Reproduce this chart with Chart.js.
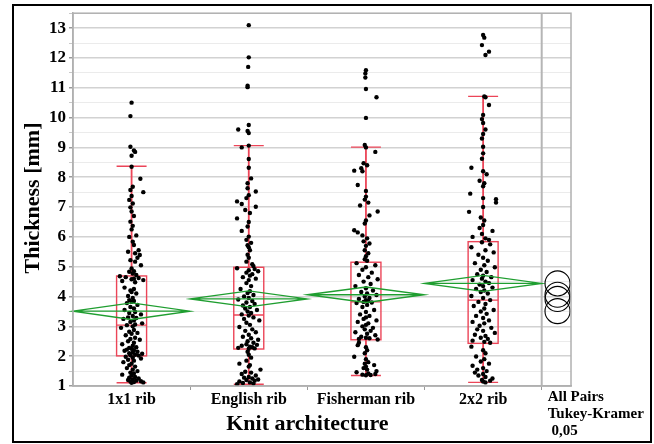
<!DOCTYPE html>
<html><head><meta charset="utf-8">
<script src="https://cdn.jsdelivr.net/npm/chart.js@4/dist/chart.umd.min.js"></script>
<style>html,body{margin:0;padding:0;background:#fff;}canvas{display:block;}</style>
</head><body>
<canvas id="c" width="654" height="444"></canvas>
<script>
// ---------- data ----------
const categories = ['1x1 rib', 'English rib', 'Fisherman rib', '2x2 rib'];
const yTicks = [1,2,3,4,5,6,7,8,9,10,11,12,13];

// observations: [thickness mm, jitter]
const rib1x1 = [
[10.50,0],[10.05,-0.01],[9.02,-0.01],[8.90,0.02],[8.85,0.03],[8.72,0],[8.35,0],[7.95,0.075],[7.50,0.10],[7.68,0.01],[7.57,-0.01],[7.37,0],[7.24,-0.02],[7.12,0.01],[6.99,-0.01],[6.85,0],[6.70,0.02],[6.51,-0.01],[6.37,0.01],[6.25,0],[6.05,0.04],[6.00,-0.02],[5.84,0.01],[5.73,0.02],[5.55,0.06],[5.50,-0.03],[5.45,0.03],[5.39,0.07],[5.30,0.05],[5.22,-0.01],[5.17,0.03],[5.05,0.08],[4.94,0],[4.85,0.02],[4.83,-0.02],[4.77,0.01],[4.72,0.04],
[4.68,-0.10],[4.65,-0.05],[4.62,0.06],[4.60,0.02],[4.58,0.00],[4.55,0.10],[4.52,-0.08],[4.48,0.03],[4.30,-0.06],[4.25,0.02],[4.20,-0.01],[4.15,0.00],[4.10,0.04],[4.02,-0.03],[3.95,0.01],[3.88,-0.02],[3.85,0.02],[3.82,0.00],[3.78,-0.04],[3.72,0.05],[3.65,-0.01],[3.60,0.02],[3.55,-0.06],[3.48,0.03],[3.45,-0.02],[3.40,0.08],[3.35,0.01],[3.30,-0.03],[3.28,0.04],[3.25,-0.07],[3.20,0.02],[3.15,-0.01],[3.10,0.09],[3.06,0.03],[3.04,-0.04],[3.00,0.01],[2.95,-0.09],[2.88,0.02],[2.82,-0.02],[2.78,0.05],[2.75,0.00],[2.70,-0.05],[2.62,0.03],[2.58,-0.01],[2.55,0.07],[2.50,-0.03],[2.45,0.02],[2.40,-0.08],[2.35,0.01],[2.30,0.04],[2.28,-0.02],[2.25,0.00],[2.22,-0.04],[2.20,0.02],[2.18,-0.06],[2.15,0.05],[2.12,0.01],[2.10,-0.02],[2.08,0.09],[2.05,0.03],[2.03,-0.01],[2.02,0.06],
[1.98,-0.05],[1.95,0.01],[1.92,0.08],[1.88,-0.03],[1.85,0.02],[1.80,-0.07],[1.75,0.00],[1.70,-0.02],[1.65,0.03],[1.60,-0.04],[1.55,0.01],[1.50,0.05],[1.45,-0.01],[1.42,0.02],[1.38,-0.08],[1.35,0.00],[1.30,0.03],[1.28,-0.02],[1.25,0.06],[1.22,0.01],[1.20,-0.03],[1.18,0.04],[1.16,0.08],[1.15,-0.01],[1.13,0.02],[1.12,0.10],[1.11,0.00]
];
const ribEnglish = [
[13.10,0],[12.02,0],[11.70,-0.005],[11.07,-0.01],[11.02,-0.01],[9.75,0],[9.60,-0.09],[9.55,-0.01],[9.48,0],[9.06,0],[9.00,-0.06],[8.61,0],[8.32,0],[7.96,0.02],[7.80,-0.01],[7.63,-0.01],[7.52,0.06],[7.40,0],[7.30,-0.02],[7.19,-0.10],[7.10,-0.06],[7.01,0.06],[6.90,-0.03],[6.80,0.01],[6.62,-0.10],[6.50,0],[6.35,-0.01],[6.20,-0.06],[6.01,0],[5.90,-0.02],[5.80,0.02],[5.72,-0.01],[5.65,0],[5.55,0.01],[5.40,-0.01],[5.30,0],[5.17,-0.02],[5.08,0.03],[5.02,0.04],
[4.95,-0.10],[4.92,0.05],[4.88,0.00],[4.85,0.08],[4.80,-0.02],[4.75,0.03],[4.70,0.01],[4.65,-0.05],[4.60,0.06],[4.55,0.00],[4.45,-0.02],[4.35,0.02],[4.25,-0.07],[4.18,0.01],[4.12,-0.01],[4.05,0.04],[4.00,-0.04],[3.95,0.00],[3.90,-0.09],[3.85,0.03],[3.80,-0.02],[3.75,0.05],[3.70,-0.05],[3.65,0.01],[3.60,-0.03],[3.55,0.07],[3.50,-0.01],[3.45,0.02],[3.40,-0.06],[3.36,0.00],[3.30,0.04],[3.25,-0.04],[3.20,0.09],[3.12,-0.02],[3.05,0.01],[2.98,-0.08],[2.90,0.03],[2.85,-0.03],[2.80,0.06],[2.72,0.00],[2.65,-0.05],[2.60,0.02],[2.55,0.08],[2.50,-0.01],[2.45,0.04],[2.40,-0.02],[2.38,0.07],[2.35,-0.06],[2.32,0.01],[2.30,0.03],[2.28,-0.09],[2.26,0.05],[2.25,0.00],
[2.15,-0.01],[2.05,0.00],[1.95,0.02],[1.85,-0.02],[1.75,-0.08],[1.70,0.01],[1.65,0.00],[1.55,0.10],[1.48,-0.03],[1.45,0.02],[1.40,-0.06],[1.35,0.06],[1.30,0.00],[1.28,-0.04],[1.25,0.03],[1.22,0.08],[1.20,-0.02],[1.18,0.05],[1.15,-0.08],[1.12,0.01],[1.10,-0.05],[1.08,0.04],[1.06,-0.10]
];
const ribFisherman = [
[11.59,0],[11.48,-0.005],[11.34,-0.005],[10.96,0],[10.68,0.09],[9.99,0],[9.08,-0.01],[9.00,0],[8.85,0.08],[8.47,-0.02],[8.40,0.01],[8.30,-0.04],[8.22,-0.10],[8.20,-0.03],[7.74,-0.07],[7.54,0],[7.35,0],[7.25,-0.01],[7.15,0.02],[7.05,-0.05],[6.85,0.10],[6.72,0.03],[6.55,0],[6.45,-0.01],[6.22,-0.10],[6.15,-0.07],[6.05,-0.03],[5.95,0.01],[5.85,-0.02],[5.78,0.03],[5.70,0],[5.55,-0.01],[5.45,0.02],[5.35,0],[5.25,-0.01],[5.20,0.01],
[5.12,-0.08],[5.05,0.08],[4.98,0.00],[4.90,-0.03],[4.80,0.05],[4.72,-0.06],[4.65,0.02],[4.58,0.10],[4.50,-0.02],[4.42,0.04],[4.35,-0.09],[4.28,0.00],[4.20,0.06],[4.15,-0.04],[4.10,0.01],[4.05,0.09],[4.00,-0.01],[3.95,0.03],[3.92,-0.06],[3.88,0.00],[3.85,0.02],[3.82,-0.02],[3.80,0.05],[3.78,-0.08],[3.72,0.01],[3.65,-0.03],[3.55,0.07],[3.48,0.00],[3.40,-0.05],[3.35,0.03],[3.30,0.00],[3.25,-0.02],[3.20,0.09],[3.15,-0.07],[3.10,0.02],[3.05,0.00],[3.00,-0.03],[2.95,0.06],[2.90,-0.01],[2.85,0.04],[2.80,-0.09],[2.75,0.01],[2.70,0.08],[2.65,-0.04],[2.62,0.00],[2.60,0.03],[2.58,-0.06],[2.56,0.10],
[2.45,-0.06],[2.37,-0.07],[2.30,0.00],[2.20,0.01],[2.10,-0.01],[1.98,-0.10],[1.90,0.00],[1.80,0.02],[1.75,-0.01],[1.70,0.07],[1.65,0.00],[1.60,-0.02],[1.55,0.01],[1.50,0.09],[1.46,-0.08],[1.42,0.02],[1.40,0.08],[1.38,-0.03],[1.37,0.04],[1.36,0.00]
];
const rib2x2 = [
[12.77,0],[12.68,0.01],[12.43,-0.01],[12.21,0.05],[12.10,0.02],[10.71,0.01],[10.68,0.02],[10.42,0.05],[10.09,0],[9.95,-0.01],[9.82,0],[9.60,0.02],[9.45,0],[9.30,-0.01],[9.02,0],[8.80,0],[8.62,-0.01],[8.32,-0.10],[8.20,0],[8.10,0.03],[7.88,-0.03],[7.80,0.01],[7.70,0],[7.45,-0.11],[7.30,0],[7.26,0.11],[7.15,0.11],[7.00,0],[6.84,-0.12],[6.65,-0.02],[6.55,0.01],[6.40,0],[6.30,-0.03],[6.20,0.08],[6.10,-0.01],[6.00,-0.09],[5.95,0.02],[5.90,0.05],
[5.82,-0.01],[5.75,0.06],[5.65,-0.10],[5.55,0.02],[5.48,0.09],[5.40,-0.04],[5.30,0.00],[5.20,0.04],[5.12,-0.07],[5.05,0.01],[4.98,0.10],[4.90,-0.02],[4.82,0.03],[4.75,-0.05],[4.70,0.00],[4.65,0.07],[4.60,-0.01],[4.55,-0.09],[4.50,0.02],[4.45,0.05],[4.40,-0.03],[4.35,0.00],[4.30,0.08],[4.25,-0.06],[4.20,0.01],[4.15,-0.02],[4.10,0.04],[4.02,-0.10],[3.95,0.00],[3.88,0.06],[3.82,-0.04],[3.75,0.02],[3.68,-0.08],[3.60,0.01],[3.55,0.09],[3.50,-0.02],[3.42,0.03],[3.35,-0.06],[3.28,0.00],[3.20,0.05],[3.15,-0.09],[3.10,0.01],[3.02,-0.03],[2.95,0.07],[2.90,-0.05],[2.85,0.00],[2.78,0.10],[2.72,-0.07],[2.68,0.02],[2.62,-0.02],[2.58,0.04],[2.52,-0.09],[2.48,0.01],[2.45,0.06],
[2.32,-0.10],[2.20,0.00],[2.10,0.02],[1.99,-0.06],[1.90,0.01],[1.82,-0.02],[1.75,0.05],[1.68,-0.09],[1.60,0.00],[1.55,-0.05],[1.50,0.03],[1.45,-0.07],[1.40,0.00],[1.35,-0.04],[1.30,0.02],[1.25,0.08],[1.20,-0.01],[1.18,0.06],[1.15,0.00],[1.12,0.02]
];

// box-plot summaries
const q1 = [2.01, 2.24, 2.55, 2.43];
const medians = [3.04, 3.38, 3.82, 3.88];
const q3 = [4.69, 4.98, 5.15, 5.84];
const whiskerLow = [1.11, 1.06, 1.35, 1.12];
const whiskerHigh = [8.37, 9.06, 9.01, 10.71];
// means and 95% CI half widths (mean diamonds)
const means = [3.51, 3.92, 4.06, 4.44];
const meanCI = [0.28, 0.27, 0.26, 0.27];
// comparison circle radii (Tukey-Kramer 0,05)
const circleRadius = [0.42, 0.42, 0.42, 0.42];
const compLabel = ['All Pairs', 'Tukey-Kramer', ' 0,05'];

// ---------- chart ----------
const groups = [rib1x1, ribEnglish, ribFisherman, rib2x2];
const SERIF = '"Liberation Serif", "Times New Roman", serif';
const BOX_HALF = 0.128, CIRCLE_X = 4.635, PANEL_SPLIT = 4.5;

const datasets = groups.map((g, i) => ({
  label: categories[i],
  data: g.map(p => ({x: i + 1 + p[1], y: p[0]})),
  pointRadius: 2.2,
  pointBackgroundColor: '#000',
  pointBorderWidth: 0,
  pointHoverRadius: 2.2
}));

const overlay = {
  id: 'overlay',
  beforeDatasetsDraw(chart) {
    const {ctx, scales: {x, y}, chartArea: a} = chart;
    ctx.save();
    // separator of comparison-circle panel
    ctx.strokeStyle = '#b5b5b5'; ctx.lineWidth = 2;
    const sx = x.getPixelForValue(PANEL_SPLIT);
    ctx.beginPath(); ctx.moveTo(sx, a.top); ctx.lineTo(sx, a.bottom); ctx.stroke();
    // box plots
    ctx.strokeStyle = '#ec4558'; ctx.lineWidth = 1.4;
    categories.forEach((c, i) => {
      const cx = x.getPixelForValue(i + 1);
      const l = x.getPixelForValue(i + 1 - BOX_HALF), r = x.getPixelForValue(i + 1 + BOX_HALF);
      const yq1 = y.getPixelForValue(q1[i]), yq3 = y.getPixelForValue(q3[i]);
      const ym = y.getPixelForValue(medians[i]);
      const ylo = y.getPixelForValue(whiskerLow[i]), yhi = y.getPixelForValue(whiskerHigh[i]);
      ctx.strokeRect(l, yq3, r - l, yq1 - yq3);
      ctx.beginPath();
      ctx.moveTo(l, ym); ctx.lineTo(r, ym);
      ctx.moveTo(l, yhi); ctx.lineTo(r, yhi);
      ctx.moveTo(l, ylo); ctx.lineTo(r, ylo);
      ctx.stroke();
      ctx.save(); ctx.lineWidth = 1.8;
      ctx.beginPath();
      ctx.moveTo(cx, yq3); ctx.lineTo(cx, yhi);
      ctx.moveTo(cx, yq1); ctx.lineTo(cx, ylo);
      ctx.stroke(); ctx.restore();
    });
    ctx.restore();
  },
  afterDatasetsDraw(chart) {
    const {ctx, scales: {x, y}} = chart;
    ctx.save();
    // mean diamonds
    ctx.strokeStyle = '#1f9e30'; ctx.lineWidth = 1.3;
    categories.forEach((c, i) => {
      const l = x.getPixelForValue(i + 0.5), r = x.getPixelForValue(i + 1.5), cx = x.getPixelForValue(i + 1);
      const ym = y.getPixelForValue(means[i]);
      const yt = y.getPixelForValue(means[i] + meanCI[i]), yb = y.getPixelForValue(means[i] - meanCI[i]);
      ctx.beginPath();
      ctx.moveTo(l, ym); ctx.lineTo(cx, yt); ctx.lineTo(r, ym); ctx.lineTo(cx, yb); ctx.closePath();
      ctx.moveTo(l, ym); ctx.lineTo(r, ym);
      ctx.stroke();
    });
    // comparison circles
    ctx.strokeStyle = '#000'; ctx.lineWidth = 1.1;
    const ccx = x.getPixelForValue(CIRCLE_X);
    means.forEach((m, i) => {
      const cy = y.getPixelForValue(m);
      const rr = Math.abs(y.getPixelForValue(m + circleRadius[i]) - cy);
      ctx.beginPath(); ctx.arc(ccx, cy, rr, 0, Math.PI * 2); ctx.stroke();
    });
    ctx.restore();
  },
  afterDraw(chart) {
    const {ctx, chartArea: a, scales: {x}} = chart;
    ctx.save();
    // plot frame
    ctx.strokeStyle = '#b0b0b0'; ctx.lineWidth = 1.5;
    ctx.strokeRect(a.left, a.top, a.right - a.left, a.bottom - a.top);
    // titles
    ctx.fillStyle = '#000';
    ctx.font = 'bold 22px ' + SERIF;
    ctx.textAlign = 'center'; ctx.textBaseline = 'middle';
    ctx.fillText('Knit architecture', (x.getPixelForValue(0.5) + x.getPixelForValue(4.5)) / 2, 424);
    ctx.save();
    ctx.translate(33, 198); ctx.rotate(-Math.PI / 2);
    ctx.fillText('Thickness [mm]', 0, 0);
    ctx.restore();
    // comparison label
    ctx.font = 'bold 15px ' + SERIF;
    ctx.textAlign = 'left';
    const lx = x.getPixelForValue(PANEL_SPLIT) + 6;
    compLabel.forEach((t, k) => ctx.fillText(t, lx, 397 + k * 17));
    // outer frame
    ctx.strokeStyle = '#000'; ctx.lineWidth = 2;
    ctx.strokeRect(13, 5, 638, 437);
    ctx.restore();
  }
};

new Chart(document.getElementById('c'), {
  type: 'scatter',
  data: {datasets},
  options: {
    responsive: false,
    devicePixelRatio: 1,
    animation: false,
    events: [],
    layout: {padding: {left: 0, top: 13, right: 83, bottom: 0}},
    plugins: {legend: {display: false}, tooltip: {enabled: false}},
    scales: {
      x: {
        type: 'linear', min: 0.5, max: 4.75,
        afterBuildTicks: s => { s.ticks = [1, 1.5, 2, 2.5, 3, 3.5, 4, 4.5].map(v => ({value: v})); },
        afterFit: s => { s.height = 58; },
        grid: {
          drawOnChartArea: false, tickLength: 4,
          tickColor: c => Number.isInteger(c.tick.value) ? 'rgba(0,0,0,0)' : '#9a9a9a'
        },
        border: {color: '#b0b0b0', width: 1.5},
        ticks: {
          autoSkip: false, maxRotation: 0, padding: 0, color: '#000',
          font: {family: SERIF, size: 16, weight: 'bold'},
          callback: v => Number.isInteger(v) && v >= 1 && v <= 4 ? categories[v - 1] : ''
        }
      },
      y: {
        type: 'linear', min: 1, max: 13.5,
        afterBuildTicks: s => {
          const t = [];
          yTicks.forEach(v => { t.push({value: v}); t.push({value: v + 0.5}); });
          s.ticks = t;
        },
        afterFit: s => { s.width = 73; },
        grid: {
          color: c => Number.isInteger(c.tick.value) ? '#d2d2d2' : '#ebebeb',
          lineWidth: c => Number.isInteger(c.tick.value) ? 1.5 : 1,
          tickLength: 4,
          tickColor: c => Number.isInteger(c.tick.value) ? '#9a9a9a' : '#c8c8c8'
        },
        border: {color: '#b0b0b0', width: 1.5},
        ticks: {
          autoSkip: false, padding: 3, color: '#000',
          font: {family: SERIF, size: 17, weight: 'bold'},
          callback: v => Number.isInteger(v) ? String(v) : ''
        }
      }
    }
  },
  plugins: [overlay]
});
</script>
</body></html>
